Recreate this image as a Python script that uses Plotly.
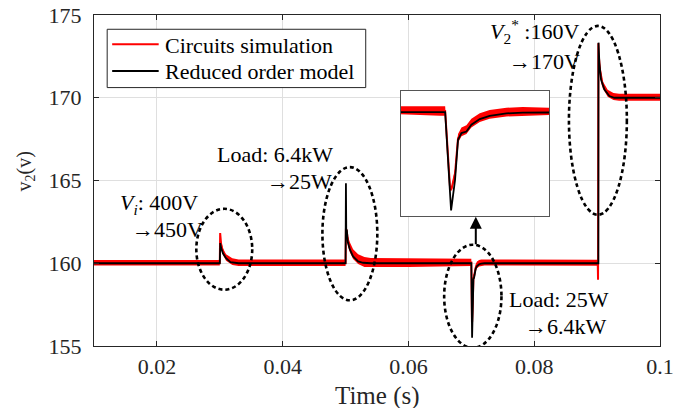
import plotly.graph_objects as go

# ---------------- data ----------------
# Reduced order model (black)
t_rom = [0.01, 0.03, 0.03008, 0.0302, 0.0305, 0.031, 0.0317, 0.033,
         0.05, 0.05006, 0.05012, 0.0502, 0.05028, 0.05035, 0.0507, 0.0512, 0.052, 0.0528, 0.054,
         0.07, 0.07012, 0.0702, 0.07026, 0.07033, 0.07043, 0.07053, 0.0707, 0.0709, 0.07124, 0.07157, 0.0721,
         0.0902, 0.09022, 0.09036, 0.09062, 0.09116, 0.09195, 0.09275, 0.1]
v_rom = [160, 160, 161.22, 160.95, 160.6, 160.3, 160.07, 160,
         160, 164.84, 161.5, 162.03, 161.5, 161.3, 160.82, 160.41, 160.11, 160.03, 160,
         160, 155.5, 156.9, 158.73, 159.04, 159.11, 159.42, 159.68, 159.83, 159.94, 159.98, 160,
         160, 173.33, 172.1, 171.1, 170.5, 170.1, 170.0, 170.0]

# Circuits simulation (red): mean value and switching-ripple half amplitude
t_cs = [0.01, 0.03, 0.03006, 0.0302, 0.0305, 0.031, 0.032, 0.033,
        0.05, 0.05006, 0.0502, 0.0504, 0.0507, 0.0512, 0.052, 0.053, 0.054, 0.06, 0.0699,
        0.07, 0.0701, 0.07013, 0.0702, 0.07026, 0.07033, 0.07043, 0.07053, 0.0707, 0.0709, 0.07124, 0.07157, 0.0721,
        0.0901, 0.09015, 0.0902, 0.09025, 0.09047, 0.09089, 0.09168, 0.0926, 0.0935, 0.1]
v_cs = [160.03, 160.03, 161.83, 161.2, 160.7, 160.35, 160.1, 160.03,
        160.03, 162.1, 161.9, 161.3, 160.95, 160.55, 160.25, 160.08, 160.03, 160.03, 160.05,
        160.05, 156.5, 156.5, 157.2, 158.8, 159.1, 159.2, 159.5, 159.75, 159.9, 160.0, 160.03, 160.05,
        160.03, 159.0, 173.3, 172.6, 171.68, 170.78, 170.27, 170.08, 170.03, 170.03]
r_cs = [0.16, 0.16, 0.05, 0.15, 0.2, 0.2, 0.2, 0.2,
        0.2, 0.05, 0.3, 0.3, 0.3, 0.3, 0.3, 0.3, 0.28, 0.25, 0.22,
        0.22, 0.1, 0.1, 0.2, 0.2, 0.2, 0.2, 0.2, 0.2, 0.2, 0.2, 0.2, 0.18,
        0.18, 0.0, 0.0, 0.1, 0.2, 0.21, 0.21, 0.21, 0.21, 0.21]

x_ticks = [0.02, 0.04, 0.06, 0.08, 0.1]
x_ticklabels = ["0.02", "0.04", "0.06", "0.08", "0.1"]
y_ticks = [155, 160, 165, 170, 175]
y_ticklabels = ["155", "160", "165", "170", "175"]

legend_names = ["Circuits simulation", "Reduced order model"]

# axis windows
main_xrange = [0.01, 0.1]
main_yrange = [155, 175]
inset_xrange = [0.0691, 0.0721]
inset_yrange = [155.26, 160.97]

# ---------------- figure ----------------
FONT = "Liberation Serif, Times New Roman, serif"
RED = "#ff0000"
AX = "#262626"

# plot area in pixels (for paper conversion of decorations)
L, R, T, B = 93.5, 660.5, 15.0, 346.5
def px(xp):
    return (xp - L) / (R - L)
def py(yp):
    return (B - yp) / (B - T)

hi = [v + r for v, r in zip(v_cs, r_cs)]
lo = [v - r for v, r in zip(v_cs, r_cs)]
band_x = t_cs + t_cs[::-1]
band_y = hi + lo[::-1]

fig = go.Figure()

# white background of the inset (covers the main grid)
fig.add_trace(go.Scatter(
    x=[inset_xrange[0], inset_xrange[1], inset_xrange[1], inset_xrange[0], inset_xrange[0]],
    y=[inset_yrange[0], inset_yrange[0], inset_yrange[1], inset_yrange[1], inset_yrange[0]],
    fill="toself", fillcolor="white", line=dict(width=0), mode="lines",
    hoverinfo="skip", showlegend=False, xaxis="x2", yaxis="y2"))

for xa, ya in (("x", "y"), ("x2", "y2")):
    fig.add_trace(go.Scatter(x=band_x, y=band_y, fill="toself", fillcolor=RED,
                             line=dict(width=0), mode="lines", hoverinfo="skip",
                             showlegend=False, xaxis=xa, yaxis=ya))
    fig.add_trace(go.Scatter(x=t_cs, y=v_cs, mode="lines", name=legend_names[0],
                             line=dict(color=RED, width=2), showlegend=False,
                             xaxis=xa, yaxis=ya))
    fig.add_trace(go.Scatter(x=t_rom, y=v_rom, mode="lines", name=legend_names[1],
                             line=dict(color="black", width=1.8), showlegend=False,
                             xaxis=xa, yaxis=ya))

fig.update_layout(
    width=673, height=408,
    margin=dict(l=L, r=673 - R, t=T, b=408 - B, autoexpand=False),
    paper_bgcolor="white", plot_bgcolor="white",
    font=dict(family=FONT, size=22, color=AX),
    xaxis=dict(range=[main_xrange[0], main_xrange[1] + 1e-9], tickvals=x_ticks, ticktext=x_ticklabels,
               showgrid=True, gridcolor="#dfdfdf", gridwidth=1, zeroline=False,
               showline=True, linecolor=AX, linewidth=1, mirror="ticks",
               ticks="inside", ticklen=5, tickcolor=AX, ticklabelstandoff=1,
               ticklabeloverflow="allow", automargin=False,
               tickfont=dict(size=22, family=FONT, color=AX)),
    yaxis=dict(range=main_yrange, tickvals=y_ticks, ticktext=y_ticklabels,
               showgrid=True, gridcolor="#dfdfdf", gridwidth=1, zeroline=False,
               showline=True, linecolor=AX, linewidth=1, mirror="ticks",
               ticks="inside", ticklen=5, tickcolor=AX, ticklabelstandoff=7,
               ticklabeloverflow="allow", automargin=False,
               tickfont=dict(size=22, family=FONT, color=AX)),
    xaxis2=dict(domain=[px(400.7), px(549.3)], anchor="y2", range=inset_xrange,
                showticklabels=False, ticks="", showgrid=False, zeroline=False,
                showline=True, mirror=True, linecolor="#555555", linewidth=1),
    yaxis2=dict(domain=[py(216), py(91)], anchor="x2", range=inset_yrange,
                showticklabels=False, ticks="", showgrid=False, zeroline=False,
                showline=True, mirror=True, linecolor="#555555", linewidth=1),
    showlegend=False,
)

# manual legend (box, line samples, labels)
fig.add_shape(type="rect", xref="paper", yref="paper",
              x0=px(106.7), x1=px(365.7), y0=py(87.7), y1=py(29.3),
              fillcolor="white", line=dict(color=AX, width=1), layer="above")
for name, col, yy in ((legend_names[0], RED, 44.3), (legend_names[1], "black", 71.0)):
    fig.add_shape(type="line", xref="paper", yref="paper",
                  x0=px(111.7), x1=px(158.3), y0=py(yy), y1=py(yy),
                  line=dict(color=col, width=2), layer="above")
    fig.add_annotation(text=name, xref="paper", yref="paper", x=px(162.5), y=py(yy + 1),
                       xanchor="left", yanchor="middle", showarrow=False,
                       font=dict(family=FONT, size=22, color="black"))

# dashed ellipses
ell = dict(color="black", width=2.6, dash="4px,3px")
for (x0, x1, y0, y1) in [(0.02627, 0.03516, 158.4, 163.29),
                         (0.04632, 0.05505, 157.76, 165.81),
                         (0.06568, 0.07479, 154.89, 161.12),
                         (0.08552, 0.09473, 162.93, 174.34)]:
    fig.add_shape(type="circle", xref="x", yref="y", x0=x0, x1=x1, y0=y0, y1=y1,
                  line=ell, layer="above")

# text annotations
tf = dict(family=FONT, size=22, color="black")
notes = [
    ("<i>V</i><sub><i>i</i></sub>: 400V", 0.01389, 163.59),
    ("→450V", 0.01579, 162.02),
    ("Load: 6.4kW", 0.02929, 166.55),
    ("→25W", 0.03722, 164.94),
    ("<i>V</i><sub>2</sub><sup>*</sup> :160V", 0.07262, 173.99),
    ("→170V", 0.07563, 172.18),
    ("Load: 25W", 0.07563, 157.80),
    ("→6.4kW", 0.07817, 156.19),
]
for txt, x, y in notes:
    fig.add_annotation(text=txt, x=x, y=y, xref="x", yref="y", xanchor="left",
                       yanchor="middle", showarrow=False, font=tf)

# arrow from ellipse to inset
fig.add_annotation(x=0.07071, y=162.81, ax=0.07071, ay=161.06, xref="x", yref="y",
                   axref="x", ayref="y", text="", showarrow=True, arrowhead=2,
                   arrowsize=1.2, arrowwidth=2, arrowcolor="black")

# axis titles
fig.add_annotation(text="Time (s)", xref="paper", yref="paper", x=0.5, y=py(396.7),
                   xanchor="center", yanchor="middle", showarrow=False,
                   font=dict(family=FONT, size=25, color=AX))
fig.add_annotation(text="v<sub>2</sub>(v)", xref="paper", yref="paper", x=px(25), y=py(172),
                   xanchor="center", yanchor="middle", showarrow=False, textangle=-90,
                   font=dict(family=FONT, size=20, color=AX))

fig.write_html("out.html")
